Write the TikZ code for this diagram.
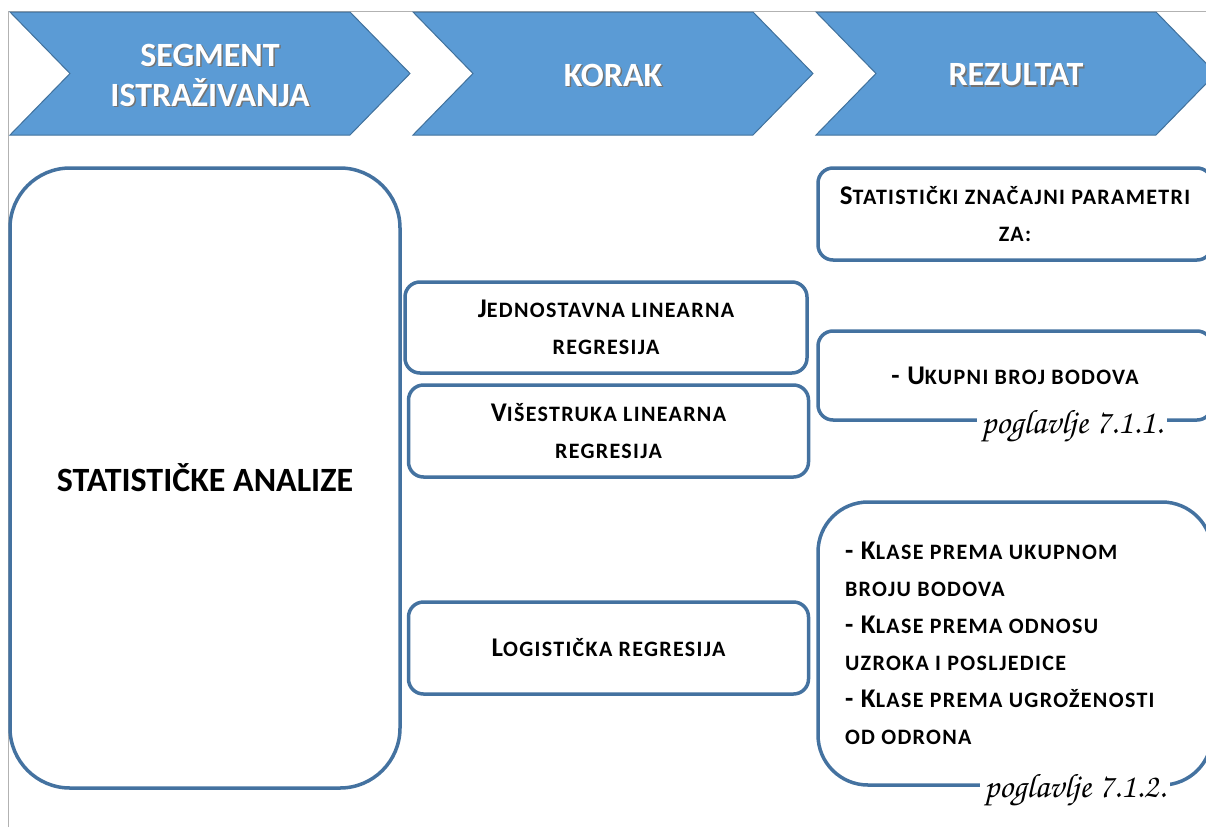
\documentclass[tikz,border=0pt]{standalone}
\usepackage[T1]{fontenc}
\usepackage{fontspec}
\setmainfont{Carlito}
\usetikzlibrary{positioning}
\definecolor{hdrblue}{RGB}{91,155,213}
\definecolor{hdredge}{RGB}{65,113,156}
\definecolor{boxedge}{RGB}{68,114,160}
\newcommand\sm[1]{{\fontsize{22}{37}\selectfont #1}}
\newcommand\hand{\fontencoding{T1}\fontfamily{pzc}\fontseries{mb}\fontshape{it}\selectfont}
\tikzset{
 hdr/.style={fill=hdrblue,draw=hdredge,line width=1pt},
 hdrtext/.style={text=white,font=\bfseries\fontsize{34}{40}\selectfont,align=center},
 hdrshade/.style={hdrtext,text=black!55},
 box/.style={draw=boxedge,line width=3.5pt,rounded corners=15pt,align=center,inner sep=0pt,
   font=\bfseries\addfontfeature{LetterSpace=6}\fontsize{27}{37}\selectfont},
 note/.style={fill=white,inner sep=4pt,anchor=base,font=\hand\fontsize{34}{34}\selectfont},
}
\begin{document}
\begin{tikzpicture}[x=1pt,y=-1pt]
\useasboundingbox (0,0) rectangle (1206,827);
\clip (0,0) rectangle (1206,827);
\draw[gray!60,line width=1pt] (8,827) -- (8,11) -- (1206,11);
% header arrows
\draw[hdr] (10,12) -- ++(340,0) -- ++(60,61.5) -- ++(-60,61.5) -- ++(-340,0) -- ++(60,-61.5) -- cycle;
\draw[hdr] (413,12) -- ++(340,0) -- ++(60,61.5) -- ++(-60,61.5) -- ++(-340,0) -- ++(60,-61.5) -- cycle;
\draw[hdr] (816,12) -- ++(340,0) -- ++(60,61.5) -- ++(-60,61.5) -- ++(-340,0) -- ++(60,-61.5) -- cycle;
\node[hdrshade] (H1s) at (211.5,76.5) {SEGMENT\\ISTRAŽIVANJA};
\node[hdrshade] (H2s) at (614.5,76.5) {KORAK};
\node[hdrshade] (H3s) at (1017.5,76.5) {REZULTAT};
\node[hdrtext] (H1) at (210,75) {SEGMENT\\ISTRAŽIVANJA};
\node[hdrtext] (H2) at (613,75) {KORAK};
\node[hdrtext] (H3) at (1016,75) {REZULTAT};
% segment
\node[box,rounded corners=60pt,minimum width=390pt,minimum height=620pt,
  font=\bfseries\fontsize{34}{40}\selectfont] (A) at (205,478) {STATISTIČKE ANALIZE};
% korak
\node[box,minimum width=402pt,minimum height=91pt] (J) at (606,327.5)
  {J\sm{EDNOSTAVNA LINEARNA}\\\sm{REGRESIJA}};
\node[box,minimum width=400pt,minimum height=92pt] (V) at (608.5,431)
  {V\sm{IŠESTRUKA LINEARNA}\\\sm{REGRESIJA}};
\node[box,minimum width=400pt,minimum height=92pt] (L) at (608.5,648)
  {L\sm{OGISTIČKA REGRESIJA}};
% rezultat
\node[box,minimum width=394pt,minimum height=92pt] (S) at (1015,214)
  {S\sm{TATISTIČKI ZNAČAJNI PARAMETRI}\\\sm{ZA:}};
\node[box,minimum width=394pt,minimum height=89pt] (U) at (1015,375.5)
  {- U\sm{KUPNI BROJ BODOVA}};
\node[box,rounded corners=50pt,minimum width=394pt,minimum height=283pt,
  align=flush left,text width=340pt,inner xsep=27pt] (K) at (1015,643.5)
  {- K\sm{LASE PREMA UKUPNOM}\\\sm{BROJU BODOVA}\\- K\sm{LASE PREMA ODNOSU}\\
   \sm{UZROKA I POSLJEDICE}\\- K\sm{LASE PREMA UGROŽENOSTI}\\\sm{OD ODRONA}};
\node[note] (P1) at (1072,433) {poglavlje 7.1.1.};
\node[note] (P2) at (1075,797) {poglavlje 7.1.2.};
\end{tikzpicture}
\end{document}
